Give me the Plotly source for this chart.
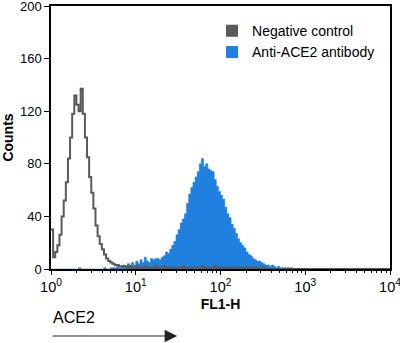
import plotly.graph_objects as go

# Histogram bins: log10(FL1-H) bin width
bin_step = 0.025
n_bins = 160

# Negative control counts per bin (bins starting at 10^0)
neg_counts = [
    30, 9, 13, 18, 26, 40, 52, 66, 84, 100,
    118, 132, 125, 120, 137, 118, 100, 85, 70, 58,
    46, 33, 25, 19, 15, 11, 8, 6, 5, 4,
    3, 3, 2, 2, 2, 2, 1, 2, 1, 1,
    2, 1, 1, 1, 2, 1, 1, 1, 1, 2,
    1, 1, 1, 2, 1, 1, 1, 1, 1, 1,
    1, 1, 2, 1, 1, 1, 1, 1, 1, 1,
    1, 2, 1, 1, 1, 1, 1, 2, 1, 1,
    1, 1, 1, 1, 1, 1, 1, 1, 1, 1,
    1, 0, 1, 1, 0, 1, 0, 1, 0, 0,
    1, 0, 0, 0, 0, 0, 0, 0, 0, 0,
] + [0] * 50

# Anti-ACE2 antibody counts per bin
ace2_counts = [
    0, 0, 0, 0, 0, 0, 0, 0, 0, 0,
    0, 0, 0, 1, 0, 0, 0, 0, 0, 0,
    0, 0, 0, 0, 0, 1, 0, 0, 1, 1,
    1, 2, 1, 2, 3, 2, 4, 3, 5, 3,
    6, 4, 7, 5, 9, 6, 5, 8, 7, 8,
    8, 7, 9, 10, 13, 12, 15, 18, 21, 26,
    30, 35, 38, 42, 50, 57, 62, 66, 70, 74,
    80, 84, 78, 80, 76, 75, 74, 68, 63, 59,
    56, 53, 47, 42, 39, 34, 31, 27, 23, 20,
    18, 16, 13, 11, 10, 8, 7, 6, 6, 5,
    4, 3, 3, 2, 3, 2, 1, 2, 1, 1,
    1, 1, 1, 1, 0, 0, 0, 0, 0, 0,
] + [0] * 40

major_ticks = [1, 10, 100, 1000, 10000]
major_labels = ["10<sup>0</sup>", "10<sup>1</sup>", "10<sup>2</sup>", "10<sup>3</sup>", "10<sup>4</sup>"]
y_ticks = [0, 40, 80, 120, 160, 200]

series_names = ["Negative control", "Anti-ACE2 antibody"]
gray = "#5a5a5d"
blue = "#1f80e0"

edges = [10 ** (i * bin_step) for i in range(n_bins + 1)]

fig = go.Figure()
fig.add_trace(go.Scatter(
    x=edges, y=ace2_counts + [ace2_counts[-1]],
    mode="lines", line=dict(shape="hv", width=0.6, color=blue),
    fill="tozeroy", fillcolor=blue, showlegend=False, hoverinfo="skip"))
fig.add_trace(go.Scatter(
    x=edges, y=neg_counts + [neg_counts[-1]],
    mode="lines", line=dict(shape="hv", width=2, color=gray),
    showlegend=False, hoverinfo="skip"))

# legend entries (square swatches)
for name, col in zip(series_names, [gray, blue]):
    fig.add_trace(go.Scatter(
        x=[None], y=[None], mode="markers", name=name,
        marker=dict(symbol="square", size=12, color=col)))

minor_vals = [m * d for d in [1, 10, 100, 1000] for m in range(2, 10)]

font_family = "Liberation Sans, Arial, sans-serif"
fig.update_layout(
    width=400, height=343,
    margin=dict(l=51, r=10, t=6, b=74, autoexpand=False),
    plot_bgcolor="white", paper_bgcolor="white",
    font=dict(family=font_family, size=14, color="black"),
    showlegend=True,
    legend=dict(x=0.475, y=0.965, xanchor="left", yanchor="top",
                font=dict(size=14), bgcolor="rgba(0,0,0,0)",
                itemsizing="constant", tracegroupgap=0),
    xaxis=dict(type="log", range=[0, 4], showline=True, linecolor="black",
               linewidth=1.5, mirror=True, ticks="outside", ticklen=4,
               tickwidth=1, tickcolor="black", automargin=False,
               tickvals=major_ticks, ticktext=major_labels,
               tickfont=dict(size=14.5), ticklabeloverflow="allow",
               minor=dict(tickvals=minor_vals, ticks="outside", ticklen=2.5,
                          tickcolor="black", showgrid=False),
               showgrid=False, zeroline=False,
               title=dict(text="<b>FL1-H</b>", font=dict(size=14), standoff=5)),
    yaxis=dict(range=[0, 200], showline=True, linecolor="black",
               linewidth=1.5, mirror=True, ticks="outside", ticklen=5,
               tickcolor="black", tickvals=y_ticks, showgrid=False,
               tickfont=dict(size=13), ticklabeloverflow="allow",
               zeroline=False, automargin=False,
               title=dict(text="<b>Counts</b>", font=dict(size=14), standoff=4)),
)

fig.add_annotation(text="ACE2", xref="paper", yref="paper", x=0, y=-0.185,
                   xanchor="left", yanchor="middle", showarrow=False,
                   font=dict(size=16, color="black"))
fig.add_annotation(text="", xref="paper", yref="paper", x=0.372, y=-0.2548,
                   ax=-126, ay=0, showarrow=True, arrowhead=2, arrowsize=2.5,
                   arrowwidth=1, arrowcolor="#222222")

fig.write_html("out.html")
